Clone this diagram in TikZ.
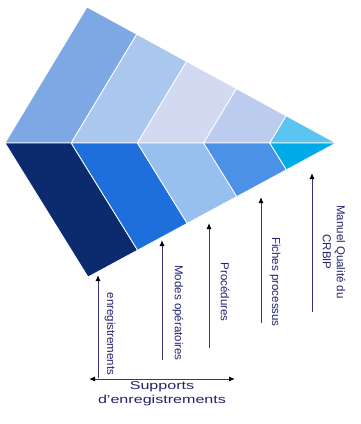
\documentclass[tikz,border=0pt]{standalone}
\usepackage{fontspec}
\setmainfont{Liberation Sans}
\usetikzlibrary{arrows.meta, calc}
\definecolor{top1}{RGB}{125, 168, 228}
\definecolor{top2}{RGB}{170, 200, 238}
\definecolor{top3}{RGB}{210, 218, 242}
\definecolor{top4}{RGB}{188, 204, 238}
\definecolor{top5}{RGB}{92, 196, 240}
\definecolor{bot1}{RGB}{12, 42, 110}
\definecolor{bot2}{RGB}{30, 110, 220}
\definecolor{bot3}{RGB}{152, 192, 238}
\definecolor{bot4}{RGB}{75, 145, 232}
\definecolor{bot5}{RGB}{0, 172, 232}
\definecolor{labelnavy}{RGB}{35, 35, 110}
\definecolor{arrowline}{RGB}{60, 50, 120}

\begin{document}
\begin{tikzpicture}[
    x=1pt, y=-1pt,
    band/.style={draw=white, line width=0.8pt, line join=round},
    pointer/.style={-{Latex[length=6pt, width=5pt, color=black]},
                    draw=arrowline, line width=1pt},
    lbl/.style={font=\fontsize{11.5}{14}\selectfont, text=labelnavy,
                rotate=-90, inner sep=0pt, align=center},
    span/.style={font=\fontsize{11.5}{14}\selectfont, text=labelnavy,
                 xscale=1.4, inner sep=0pt, align=center},
]
\useasboundingbox[fill=white] (0,0) rectangle (361,424);

%% ── Corners of the kite ─────────────────────────────────────────────────────
\coordinate (L) at (5,143);
\coordinate (T) at (87,7);
\coordinate (R) at (336,143);
\coordinate (B) at (88,277);

%% ── Bands ───────────────────────────────────────────────────────────────────
\foreach \sa/\sb/\col in {0/0.2/top1, 0.2/0.4/top2, 0.4/0.6/top3, 0.6/0.8/top4, 0.8/1/top5}
  \path[band, fill=\col] ($(L)!\sa!(R)$) -- ($(T)!\sa!(R)$) -- ($(T)!\sb!(R)$) -- ($(L)!\sb!(R)$) -- cycle;
\foreach \sa/\sb/\col in {0/0.2/bot1, 0.2/0.4/bot2, 0.4/0.6/bot3, 0.6/0.8/bot4, 0.8/1/bot5}
  \path[band, fill=\col] ($(L)!\sa!(R)$) -- ($(B)!\sa!(R)$) -- ($(B)!\sb!(R)$) -- ($(L)!\sb!(R)$) -- cycle;

%% ── Pointers ────────────────────────────────────────────────────────────────
\coordinate (tip1) at (98,275);  \coordinate (foot1) at (98,378);
\coordinate (tip2) at (162,240); \coordinate (foot2) at (162,360);
\coordinate (tip3) at (209,223); \coordinate (foot3) at (209,348);
\coordinate (tip4) at (261,197); \coordinate (foot4) at (261,323);
\coordinate (tip5) at (312,173); \coordinate (foot5) at (312,312);
\foreach \i in {1,...,5}
  \draw[pointer] (foot\i) -- (tip\i);

\node[lbl] (enr)  at (110,334) {enregistrements};
\node[lbl] (mod)  at (178,313) {Modes opératoires};
\node[lbl] (proc) at (225,292) {Procédures};
\node[lbl] (fich) at (275,282) {Fiches processus};
\node[lbl] (man)  at (334,252) {Manuel Qualité du\\CRBIP};

%% ── Supports d'enregistrements ──────────────────────────────────────────────
\coordinate (supL) at (89,379);
\coordinate (supR) at (235,379);
\draw[pointer, {Latex[length=6pt, width=5pt, color=black]}-{Latex[length=6pt, width=5pt, color=black]}] (supL) -- (supR);
\node[span] (sup) at (162,394) {Supports\\d'enregistrements};

\end{tikzpicture}
\end{document}
